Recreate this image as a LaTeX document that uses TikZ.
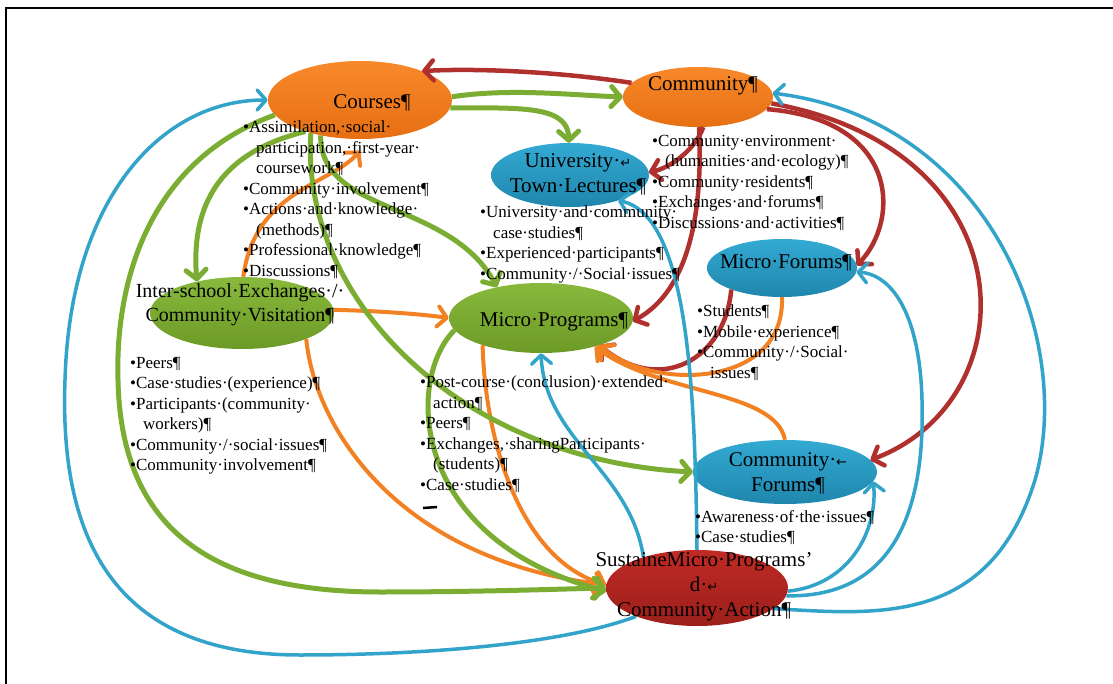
\documentclass[tikz,border=0pt]{standalone}
\usepackage{fontspec}
\setmainfont{Liberation Serif}
\newfontfamily\arrowfont{DejaVu Sans}
\usetikzlibrary{shapes.geometric,arrows.meta}

% link colours
\definecolor{cgreen}{HTML}{7BAD32}
\definecolor{corange}{HTML}{F28123}
\definecolor{cred}{HTML}{B0302E}
\definecolor{cblue}{HTML}{32A3C9}
% ellipse fills
\definecolor{orangetop}{HTML}{F8892A}
\definecolor{orangebot}{HTML}{E66F12}
\definecolor{greentop}{HTML}{88B93C}
\definecolor{greenbot}{HTML}{6D9A27}
\definecolor{bluetop}{HTML}{33AAD3}
\definecolor{bluebot}{HTML}{1F86AC}
\definecolor{redtop}{HTML}{C02A24}
\definecolor{redbot}{HTML}{9C1F1B}

\newcommand{\sym}[1]{{\arrowfont\fontsize{13}{13}\selectfont #1}}
\newcommand{\wrapind}{\hspace*{13pt}}

\begin{document}
\begin{tikzpicture}[x=1pt,y=-1pt,
  >={Straight Barb[length=9pt,width=20pt,round]},
  hub/.style={ellipse,inner sep=0pt},
  orangehub/.style={hub,top color=orangetop,bottom color=orangebot},
  greenhub/.style={hub,top color=greentop,bottom color=greenbot},
  bluehub/.style={hub,top color=bluetop,bottom color=bluebot},
  redhub/.style={hub,top color=redtop,bottom color=redbot},
  title/.style={font=\fontsize{21}{25}\selectfont,align=center,inner sep=0pt},
  notes/.style={font=\fontsize{17}{20.5}\selectfont,align=left,anchor=north west,inner sep=0pt},
  greenlink/.style={->,draw=cgreen,line width=5pt},
  orangelink/.style={->,draw=corange,line width=4pt},
  redlink/.style={->,draw=cred,line width=4.5pt},
  bluelink/.style={->,draw=cblue,line width=3.5pt}]

\useasboundingbox (0,0) rectangle (1113,684);

% Frame
\draw[line width=1.5pt] (6,684) -- (6,8) -- (1113,8);

% Ellipses
\node[orangehub,minimum width=184pt,minimum height=78pt] (courses) at (360,100) {};
\node[orangehub,minimum width=150pt,minimum height=60pt] (community) at (698,97) {};
\node[bluehub,minimum width=158pt,minimum height=64pt] (lectures) at (570,175) {};
\node[greenhub,minimum width=184pt,minimum height=72pt] (visit) at (242,313) {};
\node[greenhub,minimum width=184pt,minimum height=70pt] (microprog) at (541,318) {};
\node[bluehub,minimum width=150pt,minimum height=58pt] (microfor) at (782,268) {};
\node[bluehub,minimum width=184pt,minimum height=64pt] (comfor) at (785,472) {};
\node[redhub,minimum width=182pt,minimum height=76pt] (sustained) at (697,588) {};

% RED links
\draw[redlink] (community.168) .. controls (560,72) and (480,68) .. (courses.25);
\draw[redlink] (community.-80) .. controls (695,150) and (670,168) .. (lectures.2);
\draw[redlink] (community.-88) .. controls (703,210) and (690,290) .. (microprog.-2);
\draw[redlink] (community.-10) .. controls (900,120) and (900,220) .. (microfor.2);
\draw[redlink] (community.-5) .. controls (1030,150) and (1030,400) .. (comfor.8);
\draw[redlink] (microfor.-157) .. controls (725,360) and (660,395) .. (microprog.-25);

% ORANGE links
\draw[orangelink,shorten >=16pt] (visit.88) .. controls (255,190) and (330,185) .. (courses.-75);
\draw[orangelink] (visit.2) .. controls (380,311) and (420,314) .. (microprog.180);
\draw[orangelink] (visit.-22) .. controls (315,430) and (400,560) .. (sustained.178);
\draw[orangelink] (microprog.-155) .. controls (485,440) and (520,560) .. (sustained.178);
\draw[orangelink] (microfor.-90) .. controls (785,390) and (650,390) .. (microprog.-25);
\draw[orangelink] (comfor.90) .. controls (775,390) and (660,395) .. (microprog.-28);

% GREEN links
\draw[greenlink] (courses.2) .. controls (510,88) and (570,95) .. (community.180);
\draw[greenlink] (courses.-5) .. controls (520,108) and (568,105) .. (lectures.92);
\draw[greenlink] (courses.-150) .. controls (230,150) and (190,195) .. (visit.145);
\draw[greenlink] (courses.-138) .. controls (320,215) and (450,200) .. (microprog.145);
\draw[greenlink] (courses.-146) .. controls (300,300) and (460,460) .. (comfor.180);
\draw[greenlink] (courses.-170) .. controls (150,160) and (115,280) .. (118,380)
  .. controls (121,520) and (200,592) .. (380,592)
  .. controls (480,592) and (560,589) .. (sustained.180);
\draw[greenlink] (microprog.-172) .. controls (405,380) and (410,540) .. (sustained.182);

% BLUE links
\draw[bluelink] (sustained.-155) .. controls (560,645) and (420,655) .. (300,655)
  .. controls (100,655) and (60,520) .. (65,380)
  .. controls (70,200) and (160,100) .. (courses.180);
\draw[bluelink] (sustained.150) .. controls (630,470) and (545,440) .. (microprog.-90);
\draw[bluelink] (sustained.90) .. controls (695,400) and (690,215) .. (lectures.-28);
\draw[bluelink] (sustained.-2) .. controls (850,585) and (878,530) .. (comfor.-6);
\draw[bluelink] (sustained.-5) .. controls (900,598) and (925,500) .. (922,400)
  .. controls (920,320) and (895,275) .. (microfor.-3);
\draw[bluelink] (sustained.-15) .. controls (880,615) and (990,625) .. (1035,480)
  .. controls (1075,340) and (990,120) .. (community.3);

% Titles
\node[title] (courses-t) at (372,103) {Courses¶};
\node[title] (community-t) at (703,86) {Community¶};
\node[title] (lectures-t) at (578,174) {University·\sym{↵}\\Town·Lectures¶};
\node[title,font=\fontsize{20}{24}\selectfont] (visit-t) at (240,305) {Inter-school·Exchanges·/·\\Community·Visitation¶};
\node[title] (microprog-t) at (554,322) {Micro·Programs¶};
\node[title] (microfor-t) at (786,263) {Micro·Forums¶};
\node[title] (comfor-t) at (788,473) {Community·\sym{←}\\Forums¶};
\node[title] (sustained-t) at (704,587) {SustaineMicro·Programs'\\d·\sym{↵}\\Community·Action¶};

% Notes
\node[notes] (courses-n) at (243,121) {•Assimilation,·social·\\\wrapind participation,·first-year·\\\wrapind coursework¶\\•Community·involvement¶\\•Actions·and·knowledge·\\\wrapind (methods)¶\\•Professional·knowledge¶\\•Discussions¶};
\node[notes] (community-n) at (652,135) {•Community·environment·\\\wrapind (humanities·and·ecology)¶\\•Community·residents¶\\•Exchanges·and·forums¶\\•Discussions·and·activities¶};
\node[notes] (lectures-n) at (480,206) {•University·and·community·\\\wrapind case·studies¶\\•Experienced·participants¶\\•Community·/·Social·issues¶};
\node[notes] (visit-n) at (130,357) {•Peers¶\\•Case·studies·(experience)¶\\•Participants·(community·\\\wrapind workers)¶\\•Community·/·social·issues¶\\•Community·involvement¶};
\node[notes] (microprog-n) at (420,376) {•Post-course·(conclusion)·extended·\\\wrapind action¶\\•Peers¶\\•Exchanges,·sharingParticipants·\\\wrapind (students)¶\\•Case·studies¶};
\node[notes] (microfor-n) at (697,305) {•Students¶\\•Mobile·experience¶\\•Community·/·Social·\\\wrapind issues¶};
\node[notes] (comfor-n) at (695,510) {•Awareness·of·the·issues¶\\•Case·studies¶};
\draw[line width=2.5pt] (423,508) -- (437,507);

\end{tikzpicture}
\end{document}
